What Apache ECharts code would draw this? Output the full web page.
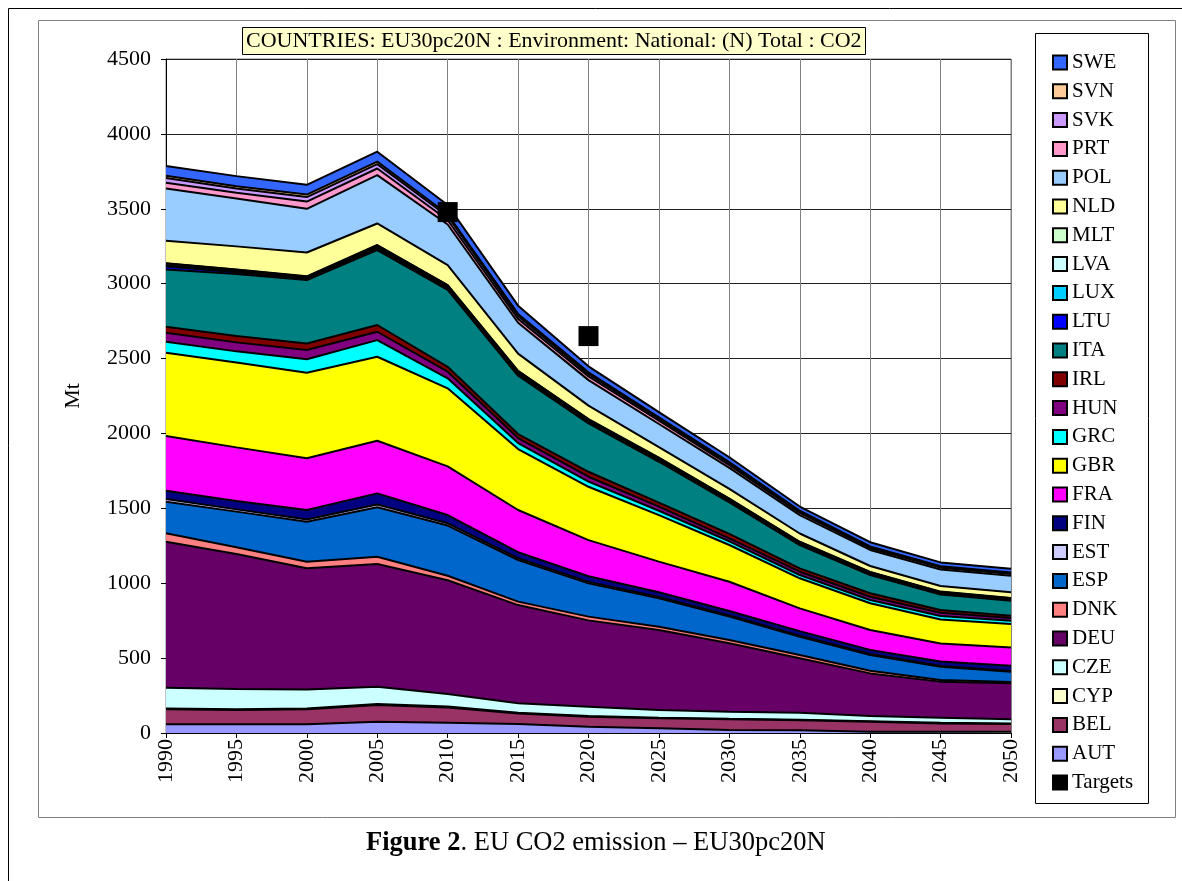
<!DOCTYPE html>
<html>
<head>
<meta charset="utf-8">
<script src="https://cdn.jsdelivr.net/npm/echarts@6/dist/echarts.min.js"></script>
<style>html,body{margin:0;padding:0;background:#fff;}#c{width:1182px;height:881px;}</style>
</head>
<body>
<div id="c"></div>
<script>
const years = ['1990','1995','2000','2005','2010','2015','2020','2025','2030','2035','2040','2045','2050'];
const yTicks = [0, 500, 1000, 1500, 2000, 2500, 3000, 3500, 4000, 4500];

const AUT = [58, 58, 58, 75, 69, 60, 42, 31, 20, 18, 9, 9, 8];
const BEL = [100, 96, 100, 112, 102, 71, 67, 67, 71, 67, 66, 55, 52];
const CYP = [5, 5, 5, 6, 6, 5, 5, 4, 4, 4, 4, 4, 4];
const CZE = [139, 135, 127, 116, 83, 62, 62, 51, 47, 46, 34, 34, 27];
const DEU = [975, 901, 810, 819, 760, 656, 576, 535, 457, 364, 285, 241, 241];
const DNK = [56, 45, 44, 49, 30, 23, 25, 22, 22, 22, 18, 11, 8];
const ESP = [211, 238, 267, 330, 335, 278, 222, 189, 156, 122, 105, 89, 69];
const EST = [18, 15, 15, 18, 15, 12, 10, 9, 8, 7, 6, 5, 5];
const FIN = [55, 56, 63, 75, 55, 40, 38, 32, 30, 30, 28, 30, 35];
const FRA = [366, 358, 345, 351, 325, 282, 241, 204, 195, 152, 133, 120, 122];
const GBR = [556, 566, 571, 561, 521, 407, 356, 311, 245, 201, 178, 160, 156];
const GRC = [73, 75, 90, 111, 67, 40, 34, 29, 25, 22, 22, 23, 22];
const HUN = [60, 60, 62, 56, 44, 33, 33, 27, 20, 22, 22, 22, 18];
const IRL = [40, 42, 44, 45, 33, 27, 33, 27, 30, 22, 23, 18, 16];
const ITA = [383, 414, 423, 500, 513, 389, 323, 273, 210, 156, 122, 104, 100];
const LTU = [20, 12, 10, 12, 12, 12, 10, 9, 8, 7, 6, 6, 6];
const LUX = [10, 8, 6, 10, 9, 9, 8, 8, 7, 6, 6, 5, 5];
const LVA = [10, 9, 7, 9, 10, 10, 9, 8, 8, 7, 6, 6, 6];
const MLT = [2, 2, 2, 3, 2, 2, 2, 2, 2, 2, 2, 2, 2];
const NLD = [149, 154, 159, 144, 133, 115, 90, 70, 65, 55, 40, 38, 38];
const POL = [350, 320, 292, 323, 271, 206, 170, 155, 140, 123, 107, 110, 110];
const PRT = [38, 38, 48, 44, 30, 26, 25, 22, 18, 14, 12, 12, 12];
const SVK = [31, 28, 30, 29, 25, 20, 15, 13, 12, 8, 6, 5, 5];
const SVN = [15, 15, 17, 17, 13, 13, 12, 10, 9, 7, 6, 5, 5];
const SWE = [65, 68, 65, 66, 62, 55, 40, 34, 32, 28, 28, 25, 25];
const targetYears = ['2010', '2020'];
const targetValues = [3478, 2650];

const countries = [
  ['AUT', AUT, '#9999FF'], ['BEL', BEL, '#993366'], ['CYP', CYP, '#FFFFCC'],
  ['CZE', CZE, '#CCFFFF'], ['DEU', DEU, '#660066'], ['DNK', DNK, '#FF8080'],
  ['ESP', ESP, '#0066CC'], ['EST', EST, '#CCCCFF'], ['FIN', FIN, '#000080'],
  ['FRA', FRA, '#FF00FF'], ['GBR', GBR, '#FFFF00'], ['GRC', GRC, '#00FFFF'],
  ['HUN', HUN, '#800080'], ['IRL', IRL, '#800000'], ['ITA', ITA, '#008080'],
  ['LTU', LTU, '#0000FF'], ['LUX', LUX, '#00CCFF'], ['LVA', LVA, '#CCFFFF'],
  ['MLT', MLT, '#CCFFCC'], ['NLD', NLD, '#FFFF99'], ['POL', POL, '#99CCFF'],
  ['PRT', PRT, '#FF99CC'], ['SVK', SVK, '#CC99FF'], ['SVN', SVN, '#FFCC99'],
  ['SWE', SWE, '#3366FF']
];

const FONT = 'Liberation Serif';
const series = countries.map((c, i) => ({
  name: c[0], type: 'line', stack: 'total', data: c[1],
  symbol: 'none', color: c[2],
  z: 40 - i,
  lineStyle: { color: '#000', width: 2 },
  areaStyle: { color: c[2], opacity: 1 },
  itemStyle: { color: c[2] },
  emphasis: { disabled: true }
}));
series.push({
  name: 'Targets', type: 'scatter', symbol: 'rect', symbolSize: 20,
  color: '#000', itemStyle: { color: '#000', opacity: 1 }, z: 60,
  emphasis: { disabled: true },
  data: targetYears.map((y, i) => [y, targetValues[i]])
});

const legendData = countries.map(c => c[0]).reverse().concat(['Targets']);

const chart = echarts.init(document.getElementById('c'));
chart.setOption({
  animation: false,
  backgroundColor: '#fff',
  textStyle: { fontFamily: FONT, color: '#000' },
  title: {
    text: 'COUNTRIES: EU30pc20N : Environment: National: (N) Total : CO2',
    left: 242, top: 27,
    backgroundColor: '#FFFFCC', borderColor: '#000', borderWidth: 1,
    padding: [3, 4, 2, 4],
    textStyle: { fontFamily: FONT, fontSize: 22, fontWeight: 'normal', color: '#000', lineHeight: 23 }
  },
  grid: { left: 166, right: 171, top: 59, bottom: 148, show: true, borderColor: '#808080', borderWidth: 1, backgroundColor: '#fff' },
  legend: {
    data: legendData, orient: 'vertical', left: 1047, top: 47,
    icon: 'rect', itemWidth: 14, itemHeight: 14, itemGap: 7.8, itemTextGap: 0,
    itemStyle: { borderColor: '#000', borderWidth: 2, opacity: 1 },
    textStyle: { fontFamily: FONT, fontSize: 21, color: '#000', lineHeight: 21 },
    selectedMode: false
  },
  xAxis: {
    type: 'category', data: years, boundaryGap: false,
    axisLine: { lineStyle: { color: '#000', width: 1 } },
    axisTick: { show: true, length: 5, lineStyle: { color: '#000' } },
    axisLabel: { rotate: 90, fontSize: 22, fontFamily: FONT, color: '#000', margin: 6 },
    splitLine: { show: true, lineStyle: { color: '#808080', width: 1 } }
  },
  yAxis: {
    type: 'value', min: 0, max: 4500, interval: 500,
    name: 'Mt', nameLocation: 'middle', nameGap: 82,
    nameTextStyle: { fontFamily: FONT, fontSize: 22, color: '#000' },
    axisLine: { show: true, lineStyle: { color: '#000', width: 1 } },
    axisTick: { show: true, length: 5, lineStyle: { color: '#000' } },
    axisLabel: { fontSize: 22, fontFamily: FONT, color: '#000', margin: 15,
      formatter: v => yTicks.includes(v) ? String(v) : '' },
    splitLine: { show: true, lineStyle: { color: '#202020', width: 1 } }
  },
  graphic: [
    { type: 'rect', shape: { x: 8.5, y: 8.5, width: 1200, height: 900 }, style: { fill: 'none', stroke: '#000', lineWidth: 1 }, z: -10 },
    { type: 'rect', shape: { x: 38.5, y: 20.5, width: 1137, height: 797 }, style: { fill: 'none', stroke: '#808080', lineWidth: 1 }, z: -10 },
    { type: 'rect', shape: { x: 1035.5, y: 33.5, width: 113, height: 770 }, style: { fill: '#fff', stroke: '#000', lineWidth: 1 }, z: -5 },
    { type: 'text', left: 366, top: 830,
      style: { text: '{b|Figure 2}. EU CO2 emission – EU30pc20N', font: '26.5px "Liberation Serif"', fill: '#000',
        rich: { b: { fontWeight: 'bold', fontFamily: FONT, fontSize: 26.5 } } } }
  ],
  series: series
});
</script>
</body>
</html>
